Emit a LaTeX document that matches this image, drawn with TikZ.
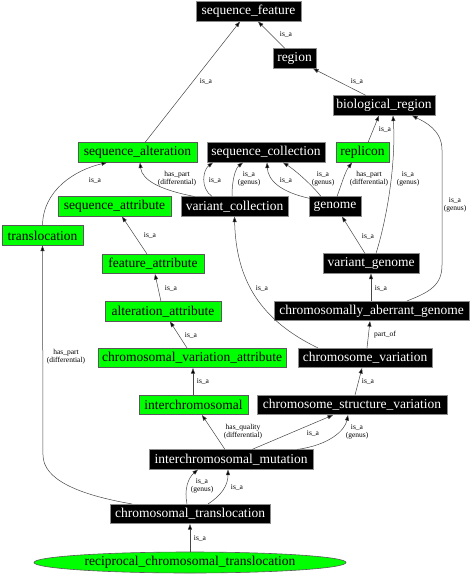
\documentclass[tikz,border=0pt]{standalone}
\usepackage{fontspec}
\setmainfont{Liberation Serif}
\usetikzlibrary{arrows.meta,shapes.geometric}
\definecolor{nodegreen}{RGB}{0,255,0}
\definecolor{edgegray}{RGB}{70,70,70}
\begin{document}
\begin{tikzpicture}[x=1pt,y=-1pt,
  blk/.style={rectangle,fill=black,draw=black!45,text=white,line width=0.6pt,
    minimum height=19.5pt,inner xsep=1pt,inner ysep=0pt,font=\fontsize{13.5}{14}\selectfont},
  grn/.style={rectangle,fill=nodegreen,draw=black!65,text=black,line width=0.6pt,
    minimum height=19.5pt,inner xsep=1pt,inner ysep=0pt,font=\fontsize{13.5}{14}\selectfont},
  edge/.style={draw=edgegray,line width=0.5pt,-{Triangle[length=5.5pt,width=4pt,fill=black]}},
  lbl/.style={font=\fontsize{7.5}{8}\selectfont,align=center,inner sep=0pt,text=black}
]
\useasboundingbox (0,0) rectangle (473,576);

% nodes
\node[blk,minimum width=105pt] (sf) at (248.5,11.5) {sequence\_feature};
\node[blk,minimum width=43pt] (region) at (294.5,58.5) {region};
\node[blk,minimum width=102pt] (br) at (384,105.5) {biological\_region};
\node[grn,minimum width=119pt] (sa) at (137.5,152.5) {sequence\_alteration};
\node[blk,minimum width=118pt] (sc) at (266,152.5) {sequence\_collection};
\node[grn,minimum width=53pt] (rep) at (362.5,152.5) {replicon};
\node[grn,minimum width=113pt] (sattr) at (114.5,206.5) {sequence\_attribute};
\node[blk,minimum width=107pt] (vc) at (234.5,206.5) {variant\_collection};
\node[blk,minimum width=52pt] (gen) at (335,206.5) {genome};
\node[grn,minimum width=81pt] (trans) at (42.5,235.5) {translocation};
\node[grn,minimum width=102pt] (fa) at (153,264) {feature\_attribute};
\node[blk,minimum width=96pt] (vg) at (371,263.5) {variant\_genome};
\node[grn,minimum width=116pt] (aa) at (163,311.5) {alteration\_attribute};
\node[blk,minimum width=195pt] (cag) at (371.5,311) {chromosomally\_aberrant\_genome};
\node[grn,minimum width=188pt] (cva) at (192,358) {chromosomal\_variation\_attribute};
\node[blk,minimum width=134pt] (cv) at (365,358) {chromosome\_variation};
\node[grn,minimum width=109pt] (ic) at (193.5,405) {interchromosomal};
\node[blk,minimum width=190pt] (csv) at (352,405) {chromosome\_structure\_variation};
\node[blk,minimum width=164pt] (icm) at (231,459.5) {interchromosomal\_mutation};
\node[blk,minimum width=160pt] (ct) at (190,514) {chromosomal\_translocation};
\node[ellipse,fill=nodegreen,draw=black!65,line width=0.6pt,minimum width=312pt,minimum height=21pt,
  inner sep=0pt,font=\fontsize{13.5}{14}\selectfont] (rct) at (190,562.5) {reciprocal\_chromosomal\_translocation};

% edges
\draw[edge] ([xshift=7.5pt]sa.north) -- ([xshift=-8.5pt]sf.south) node[lbl] at (206,81) {is\_a};
\draw[edge] ([xshift=-9.5pt]region.north) -- ([xshift=9.5pt]sf.south) node[lbl] at (286,34) {is\_a};
\draw[edge] ([xshift=-18pt]br.north) -- ([xshift=18.5pt]region.south) node[lbl] at (357,81) {is\_a};
\draw[edge] ([xshift=5.5pt]rep.north) -- ([xshift=-5pt]br.south) node[lbl] at (385,129) {is\_a};
\draw[edge] ([xshift=5pt]vg.north) .. controls (388,215) and (396,160) .. ([xshift=9pt]br.south)
  node[lbl] at (408,179) {is\_a\\(genus)};
\draw[edge] ([xshift=35.5pt]cag.north) .. controls (430,292) and (442,285) .. (442,265) -- (442,150)
  .. controls (442,130) and (425,122) .. ([xshift=28pt]br.south)
  node[lbl] at (455,205) {is\_a\\(genus)};
\draw[edge] (trans.north) .. controls (43,190) and (75,170) .. ([xshift=-30.5pt]sa.south)
  node[lbl] at (95,180) {is\_a};
\draw[edge] ([xshift=-40pt]vc.north) .. controls (160,190) and (142,180) .. ([xshift=2.5pt]sa.south)
  node[lbl] at (177,179) {has\_part\\(differential)};
\draw[edge] ([xshift=-22.5pt]vc.north) .. controls (200,188) and (203,170) .. ([xshift=-53pt]sc.south)
  node[lbl] at (215,180) {is\_a};
\draw[edge] ([xshift=-2.5pt]vc.north) .. controls (232,178) and (236,168) .. ([xshift=-23pt]sc.south)
  node[lbl] at (249,179) {is\_a\\(genus)};
\draw[edge] ([xshift=-25pt,yshift=-2pt]gen.north) .. controls (280,192) and (268,180) .. ([xshift=1pt]sc.south)
  node[lbl] at (286,180) {is\_a};
\draw[edge] ([xshift=-14pt]gen.north) .. controls (312,185) and (295,170) .. ([xshift=17pt]sc.south)
  node[lbl] at (323,179) {is\_a\\(genus)};
\draw[edge] ([xshift=2pt]gen.north) .. controls (342,183) and (345,172) .. ([xshift=-10.5pt]rep.south)
  node[lbl] at (369,179) {has\_part\\(differential)};
\draw[edge] ([xshift=-6pt]vg.north) -- ([xshift=7pt]gen.south) node[lbl] at (368,236) {is\_a};
\draw[edge] ([xshift=-6pt]fa.north) -- ([xshift=7.5pt]sattr.south) node[lbl] at (150,235) {is\_a};
\draw[edge] ([xshift=-2pt]aa.north) -- ([xshift=2pt]fa.south) node[lbl] at (171,288) {is\_a};
\draw[edge] ([xshift=-5pt]cva.north) -- ([xshift=7pt]aa.south) node[lbl] at (191,335) {is\_a};
\draw[edge] ([xshift=-0.5pt]ic.north) -- ([xshift=1pt]cva.south) node[lbl] at (203,381) {is\_a};
\draw[edge] ([xshift=-0.5pt]cag.north) -- (vg.south) node[lbl] at (381,288) {is\_a};
\draw[edge] ([xshift=2pt]cv.north) -- ([xshift=-1.5pt]cag.south) node[lbl] at (385,335) {part\_of};
\draw[edge] ([xshift=-47pt]cv.north) .. controls (260,320) and (236,280) .. (vc.south)
  node[lbl] at (262,288) {is\_a};
\draw[edge] ([xshift=3pt]csv.north) -- ([xshift=-3pt]cv.south) node[lbl] at (368,381) {is\_a};
\draw[edge] ([xshift=-6pt]icm.north) -- ([xshift=8.5pt]ic.south)
  node[lbl] at (243,432) {has\_quality\\(differential)};
\draw[edge] ([xshift=21pt]icm.north) -- ([xshift=-19pt]csv.south) node[lbl] at (313,433) {is\_a};
\draw[edge] ([xshift=66pt]icm.north) .. controls (330,445) and (345,430) .. ([xshift=-4pt]csv.south)
  node[lbl] at (357,432) {is\_a\\(genus)};
\draw[edge] ([xshift=-3pt]ct.north) .. controls (184,490) and (188,478) .. ([xshift=-33pt]icm.south)
  node[lbl] at (202,486) {is\_a\\(genus)};
\draw[edge] ([xshift=18pt]ct.north) .. controls (222,495) and (228,485) .. ([xshift=-3pt]icm.south)
  node[lbl] at (237,487) {is\_a};
\draw[edge] ([xshift=-58pt]ct.north) .. controls (80,495) and (43,480) .. (43,455) -- (trans.south)
  node[lbl] at (66,357) {has\_part\\(differential)};
\draw[edge] (rct.north) -- (ct.south) node[lbl] at (200,538) {is\_a};
\end{tikzpicture}
\end{document}
